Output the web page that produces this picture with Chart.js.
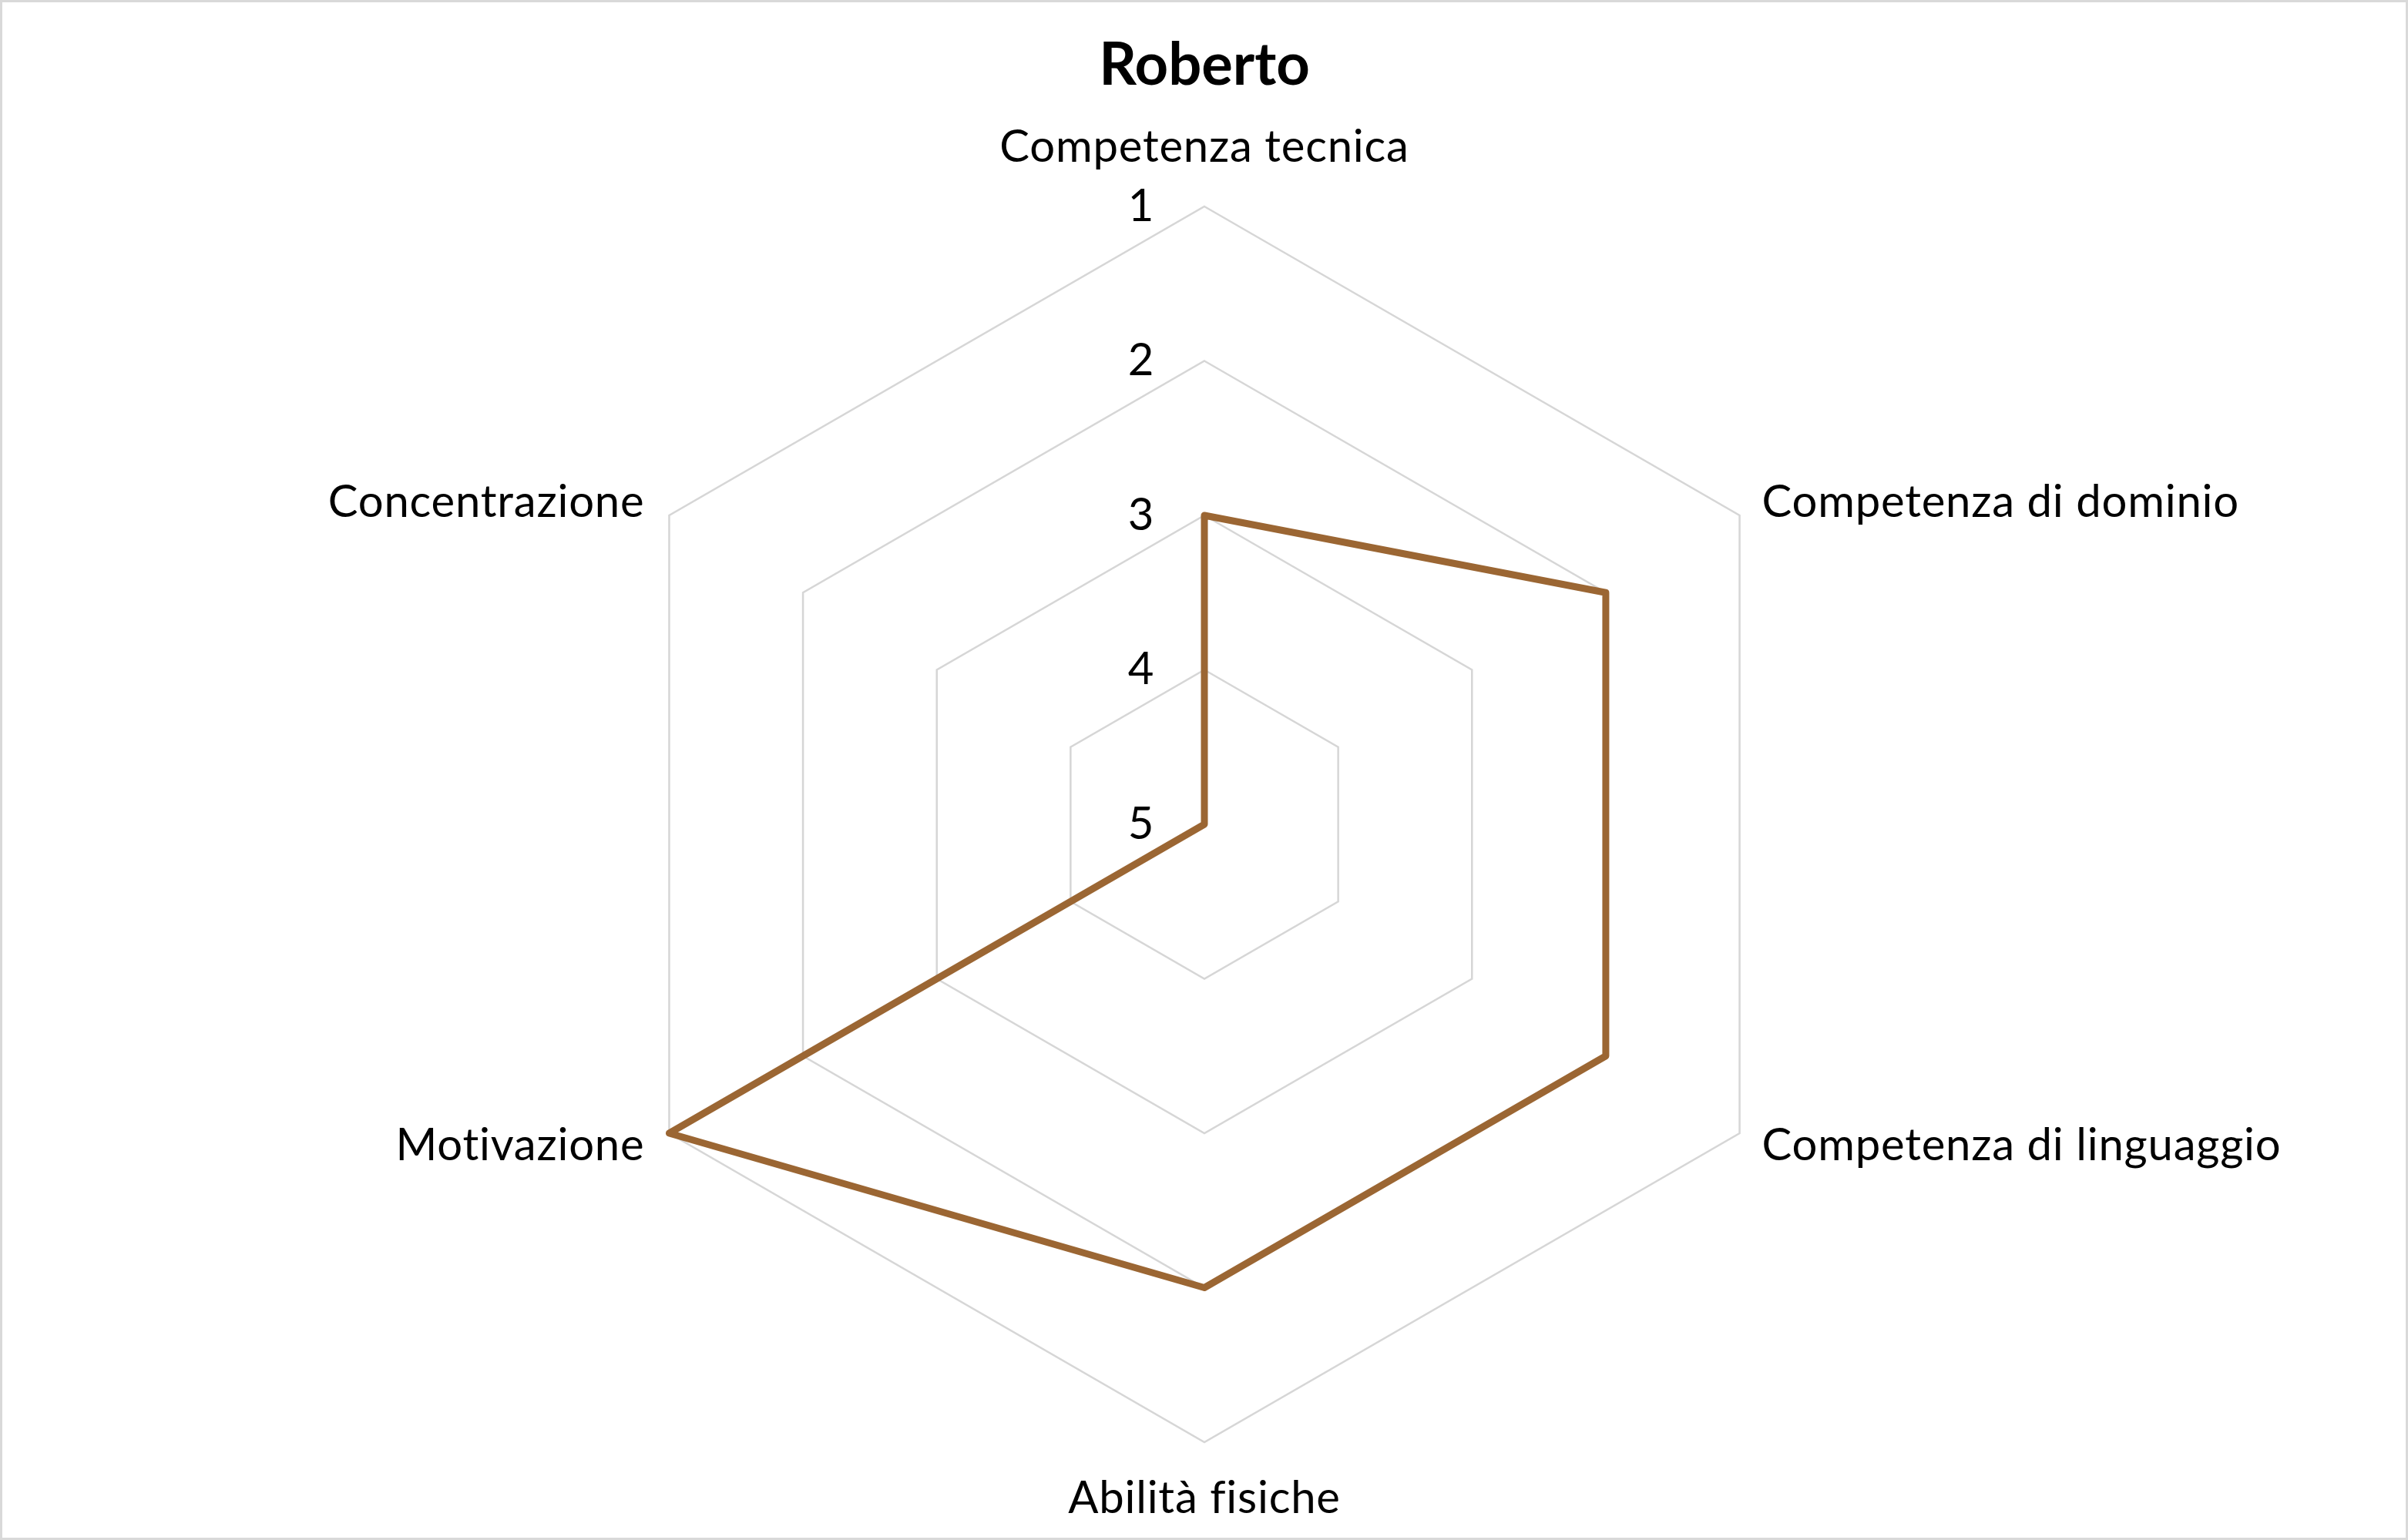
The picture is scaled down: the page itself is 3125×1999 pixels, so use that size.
<!DOCTYPE html>
<html>
<head>
<meta charset="utf-8">
<script src="https://cdn.jsdelivr.net/npm/chart.js@4/dist/chart.umd.min.js"></script>
<style>
  html, body { margin: 0; padding: 0; background: #ffffff; }
  canvas { display: block; }
</style>
</head>
<body>
<canvas id="c" width="3125" height="1999"></canvas>
<script>
const chartTitle = "Roberto";
const categories = ["Competenza tecnica", "Competenza di dominio", "Competenza di linguaggio", "Abilità fisiche", "Motivazione", "Concentrazione"];
const seriesName = "Roberto";
const seriesValues = [3, 2, 2, 2, 1, 5];
const tickValues = [1, 2, 3, 4, 5];

const FONT = "Lato, 'Open Sans', sans-serif";
const LABEL_SIZE = 58;

const textPlugin = {
  id: 'customText',
  afterDraw(chart) {
    const ctx = chart.ctx;
    const scale = chart.scales.r;
    ctx.save();
    ctx.fillStyle = '#000000';
    ctx.font = LABEL_SIZE + 'px ' + FONT;
    ctx.textBaseline = 'middle';
    ctx.letterSpacing = '0.8px';
    // tick labels left of the first axis
    tickValues.forEach(v => {
      const p = scale.getPointPosition(0, scale.getDistanceFromCenterForValue(v));
      ctx.textAlign = 'center';
      ctx.fillText(String(v), p.x - 82, p.y);
    });
    // category labels
    const r = scale.drawingArea;
    categories.forEach((lab, i) => {
      const p = scale.getPointPosition(i, r);
      const dx = p.x - scale.xCenter;
      const dy = p.y - scale.yCenter;
      let x = p.x, y = p.y;
      if (Math.abs(dx) < 1) {
        ctx.textAlign = 'center';
        y = dy < 0 ? p.y - 77 : p.y + 73;
      } else if (dx > 0) {
        ctx.textAlign = 'left';
        x = p.x + 29;
        y = dy < 0 ? p.y - 17 : p.y + 16;
      } else {
        ctx.textAlign = 'right';
        x = p.x - 32;
        y = dy < 0 ? p.y - 17 : p.y + 16;
      }
      ctx.fillText(lab, x, y);
    });
    // outer border
    ctx.letterSpacing = '0px';
    ctx.strokeStyle = '#d9d9d9';
    ctx.lineWidth = 3;
    ctx.strokeRect(1.5, 1.5, chart.width - 3, chart.height - 3);
    ctx.restore();
  }
};

new Chart(document.getElementById('c'), {
  type: 'radar',
  data: {
    labels: categories,
    datasets: [{
      label: seriesName,
      data: seriesValues,
      borderColor: '#9b6633',
      borderWidth: 9,
      borderJoinStyle: 'round',
      fill: false,
      pointRadius: 0,
      pointHoverRadius: 0,
      tension: 0
    }]
  },
  options: {
    responsive: false,
    animation: false,
    devicePixelRatio: 1,
    layout: { padding: { top: 0, bottom: 127, left: 100, right: 99 } },
    plugins: {
      legend: { display: false },
      tooltip: { enabled: false },
      title: {
        display: true,
        text: chartTitle,
        color: '#000000',
        font: { family: FONT, size: 76, weight: 'bold', lineHeight: 1.2 },
        padding: { top: 40, bottom: 136.8 }
      }
    },
    scales: {
      r: {
        min: 1,
        max: 5,
        reverse: true,
        ticks: { display: false, stepSize: 1 },
        angleLines: { display: false },
        grid: { color: '#d6d6d6', lineWidth: 2.5 },
        pointLabels: { display: false }
      }
    }
  },
  plugins: [textPlugin]
});
</script>
</body>
</html>
